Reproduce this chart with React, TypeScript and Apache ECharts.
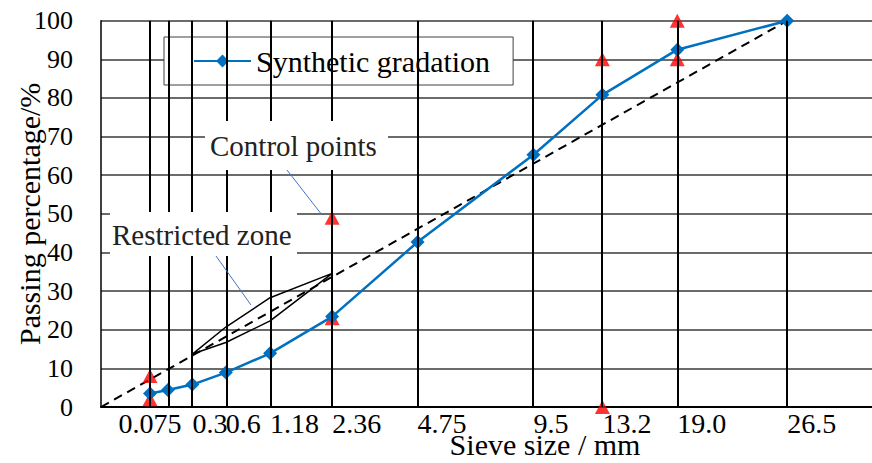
import React, { useEffect, useRef } from "react";
import * as echarts from "echarts";

// Sieve sizes (labels) and their positions on the 0.45-power axis
const sieveLabels = ["0.075", "0.15", "0.3", "0.6", "1.18", "2.36", "4.75", "9.5", "13.2", "19.0", "26.5"];
const sievePositions = [0.312, 0.426, 0.582, 0.795, 1.077, 1.472, 2.016, 2.754, 3.193, 3.67, 4.37];
// Label groups (0.15 has no label)
const leftLabelIdx = [3, 4, 5, 6, 7, 8, 9, 10];
const leftLabelIdx2 = [2];
const centerLabelIdx = [0];

// Synthetic gradation, passing percentage (%)
const gradation = [3.5, 4.4, 5.8, 8.9, 13.9, 23.4, 42.7, 65.3, 80.8, 92.5, 100];

// Control points (sieve index, value)
const controlIdx = [0, 0, 5, 5, 8, 8, 9, 9];
const controlValues = [2, 8, 23, 49, 0, 90, 90, 100];

// Restricted zone
const restrictedIdx = [2, 3, 4, 5];
const restrictedUpper = [13.7, 20.7, 28.3, 34.6];
const restrictedLower = [13.7, 16.7, 22.3, 34.6];

// Maximum density line: from origin to the maximum size at 100 %
const maxDensityX = [0, 4.37];
const maxDensityY = [0, 100];

const yTicks = [0, 10, 20, 30, 40, 50, 60, 70, 80, 90, 100];

const FONT = "'Liberation Serif', 'Times New Roman', serif";

function labelFor(v: number): string {
  let best = 0;
  let d = Infinity;
  sievePositions.forEach((p, i) => {
    const dd = Math.abs(p - v);
    if (dd < d) {
      d = dd;
      best = i;
    }
  });
  return sieveLabels[best];
}

export default function App() {
  const ref = useRef<HTMLDivElement>(null);

  useEffect(() => {
    if (!ref.current) return;
    const chart = echarts.init(ref.current, null, { renderer: "svg" });

    const gradData = sievePositions.map((x, i) => [x, gradation[i]]);
    const ctrlData = controlIdx.map((idx, i) => [sievePositions[idx], controlValues[i]]);
    const zoneData = [
      ...restrictedIdx.map((idx, i) => [sievePositions[idx], restrictedUpper[i]]),
      ...restrictedIdx
        .map((idx, i) => [sievePositions[idx], restrictedLower[i]])
        .reverse(),
    ];
    const densityData = maxDensityX.map((x, i) => [x, maxDensityY[i]]);

    const labelStyle = {
      fontSize: 28,
      fontFamily: FONT,
      color: "#000",
      margin: 2,
      hideOverlap: false,
      formatter: (v: number) => labelFor(v),
    };

    const extraAxis = (idx: number[], align: string) => ({
      type: "value",
      min: 0,
      max: 4.91,
      position: "bottom",
      offset: 0,
      axisLine: { show: false },
      axisTick: { show: false },
      splitLine: { show: false },
      axisLabel: {
        ...labelStyle,
        customValues: idx.map((i) => sievePositions[i]),
        align,
      },
    });

    chart.setOption({
      animation: false,
      grid: {
        left: 101,
        right: 0,
        top: 20.7,
        bottom: 56,
        containLabel: false,
        outerBoundsMode: "none",
      },
      legend: {
        data: ["Synthetic gradation"],
        left: 164,
        top: 37,
        orient: "horizontal",
        padding: [9, 23, 9, 29],
        itemWidth: 57,
        itemHeight: 16,
        backgroundColor: "#fff",
        borderColor: "#404040",
        borderWidth: 1,
        borderRadius: 0,
        textStyle: { fontSize: 30, fontFamily: FONT, color: "#000", lineHeight: 30 },
      },
      xAxis: [
        {
          type: "value",
          min: 0,
          max: 4.91,
          position: "bottom",
          name: "Sieve size / mm",
          nameLocation: "middle",
          nameGap: 22,
          nameMoveOverlap: false,
          nameTextStyle: {
            fontSize: 30,
            fontFamily: FONT,
            color: "#000",
            padding: [0, 0, 0, 117],
          },
          axisLine: { show: true, onZero: false, lineStyle: { color: "#000", width: 2 } },
          axisTick: { show: false },
          splitLine: { show: false },
          axisLabel: {
            ...labelStyle,
            customValues: leftLabelIdx.map((i) => sievePositions[i]),
            align: "left",
          },
        },
        extraAxis(centerLabelIdx, "center"),
        extraAxis(leftLabelIdx2, "left"),
      ],
      yAxis: {
        type: "value",
        min: 0,
        max: 100,
        interval: 10,
        name: "Passing percentage/%",
        nameLocation: "middle",
        nameGap: 57,
        nameMoveOverlap: false,
        nameTextStyle: { fontSize: 30, fontFamily: FONT, color: "#000" },
        axisLine: { show: true, lineStyle: { color: "#000", width: 1.5 } },
        axisTick: { show: false },
        axisLabel: {
          fontSize: 26,
          fontFamily: FONT,
          color: "#000",
          margin: 28,
          hideOverlap: false,
          formatter: (v: number) => (yTicks.includes(v) ? String(v) : ""),
        },
        splitLine: { show: true, lineStyle: { color: "#3a3a3a", width: 1.5 } },
      },
      series: [
        {
          name: "sieve lines",
          type: "line",
          data: [],
          z: 1,
          silent: true,
          markLine: {
            silent: true,
            symbol: ["none", "none"],
            label: { show: false },
            lineStyle: { color: "#000", width: 2, type: "solid" },
            data: sievePositions.map((x) => ({ xAxis: x })),
          },
        },
        {
          name: "Maximum density line",
          type: "line",
          data: densityData,
          symbol: "none",
          z: 2,
          lineStyle: { color: "#000", width: 2, type: [9, 6] },
        },
        {
          name: "Restricted zone",
          type: "line",
          data: zoneData,
          symbol: "none",
          z: 2,
          lineStyle: { color: "#000", width: 1.5 },
        },
        {
          name: "Control points",
          type: "scatter",
          data: ctrlData,
          symbol: "triangle",
          symbolSize: [15, 14],
          z: 3,
          itemStyle: { color: "#ff0000" },
        },
        {
          name: "Synthetic gradation",
          type: "line",
          data: gradData,
          symbol: "diamond",
          symbolSize: 14,
          z: 4,
          lineStyle: { color: "#0070c0", width: 2.5 },
          itemStyle: { color: "#0070c0" },
        },
      ],
      graphic: [
        {
          type: "rect",
          z: 100,
          shape: { x: 205, y: 121, width: 183, height: 49 },
          style: { fill: "#fff" },
        },
        {
          type: "text",
          z: 101,
          x: 210,
          y: 145.5,
          style: {
            text: "Control points",
            font: `29px ${FONT}`,
            fill: "#222",
            verticalAlign: "middle",
            align: "left",
          },
        },
        {
          type: "line",
          z: 101,
          shape: { x1: 287, y1: 170, x2: 322, y2: 215 },
          style: { stroke: "#4472c4", lineWidth: 1 },
        },
        {
          type: "rect",
          z: 100,
          shape: { x: 110, y: 212, width: 187, height: 44 },
          style: { fill: "#fff" },
        },
        {
          type: "text",
          z: 101,
          x: 112,
          y: 235,
          style: {
            text: "Restricted zone",
            font: `29px ${FONT}`,
            fill: "#222",
            verticalAlign: "middle",
            align: "left",
          },
        },
        {
          type: "line",
          z: 101,
          shape: { x1: 216, y1: 256, x2: 251, y2: 305 },
          style: { stroke: "#4472c4", lineWidth: 1 },
        },
      ],
    });

    return () => chart.dispose();
  }, []);

  return (
    <div
      ref={ref}
      style={{ position: "absolute", left: 0, top: 0, width: 872, height: 463, background: "#fff" }}
    />
  );
}
